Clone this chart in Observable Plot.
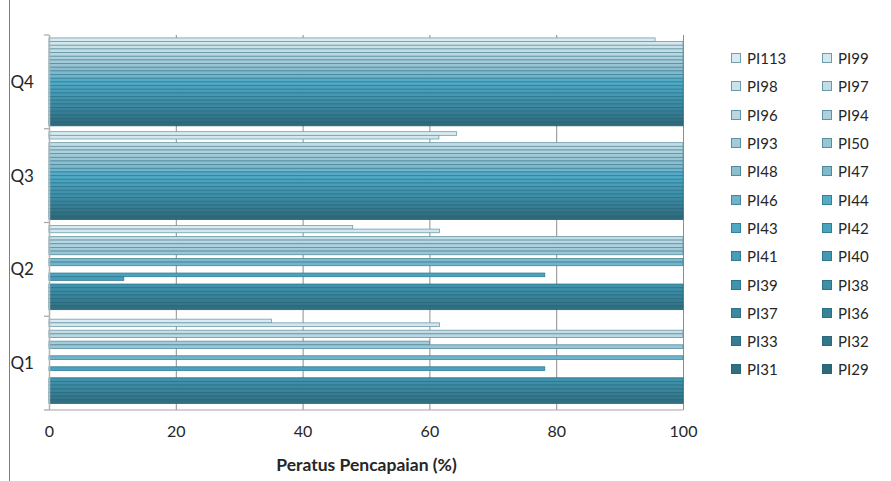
<!DOCTYPE html>
<html>
<head>
<meta charset="utf-8">
<script src="https://cdn.jsdelivr.net/npm/d3@7"></script>
<script src="https://cdn.jsdelivr.net/npm/@observablehq/plot@0.6"></script>
<style>
  body { margin: 0; background: #fff; }
  #wrap { position: relative; width: 891px; height: 481px; overflow: hidden; font-family: Lato, sans-serif; background: #fff; }
  #chart { position: absolute; left: 0; top: 0; }
  #border { position: absolute; left: 9px; top: 0; width: 0; height: 481px; border-left: 1.5px solid #7f7f7f; }
  #legend { position: absolute; left: 731px; top: 44px; display: grid; grid-template-columns: 91px 70px; grid-auto-rows: 28.3px; font-size: 15px; color: #262626; }
  .item { display: flex; align-items: center; white-space: nowrap; }
  .sw { width: 8px; height: 8px; margin-right: 6px; border: 1px solid #4f8fa4; box-sizing: content-box; }
</style>
</head>
<body>
<div id="wrap">
  <div id="chart"></div>
  <div id="border"></div>
  <div id="legend"></div>
</div>
<script>
const quarters = ["Q4", "Q3", "Q2", "Q1"];
const series = ["PI113","PI99","PI98","PI97","PI96","PI94","PI93","PI50","PI48","PI47","PI46","PI44",
                "PI43","PI42","PI41","PI40","PI39","PI38","PI37","PI36","PI33","PI32","PI31","PI29"];
const q1 = [35.1, 61.6, 0, 100, 100, 0, 60.0, 100, 0, 0, 100, 0, 0, 78.2, 0, 0, 100, 100, 100, 100, 100, 100, 100, 0];
const q2 = [47.9, 61.6, 0, 100, 100, 100, 100, 100, 0, 100, 100, 0, 0, 78.2, 11.8, 0, 100, 100, 100, 100, 100, 100, 100, 0];
const q3 = [64.3, 61.5, 0, 100, 100, 100, 100, 100, 100, 100, 100, 100, 100, 100, 100, 100, 100, 100, 100, 100, 100, 100, 100, 100];
const q4 = [95.6, 100, 100, 100, 100, 100, 100, 100, 100, 100, 100, 100, 100, 100, 100, 100, 100, 100, 100, 100, 100, 100, 100, 100];
const colors = ["#d9ebf1","#d3e7ee","#cbe2ea","#c3dde7","#b8d7e2","#aed1de","#a4cbd9","#9ac5d5",
                "#8ebfd1","#80b9cd","#6fb4cb","#55abc6","#4ea8c3","#4aa3be","#469eb9","#4399b3",
                "#4093ad","#3e8ea7","#3b88a0","#38829a","#367c92","#33768a","#307082","#2d6a7b"];
const xTicks = [0, 20, 40, 60, 80, 100];
const xLabel = "Peratus Pencapaian (%)";

const byQ = {Q1: q1, Q2: q2, Q3: q3, Q4: q4};
const data = [];
quarters.forEach(q => series.forEach((s, i) => data.push({quarter: q, series: s, value: byQ[q][i]})));
const fillOf = new Map(series.map((s, i) => [s, colors[i]]));
const strokeOf = new Map(series.map((s, i) => [s, d3.interpolateRgb(colors[i], "#1f5f72")(0.55)]));

const plot = Plot.plot({
  width: 891, height: 481,
  marginTop: 35, marginBottom: 71, marginLeft: 49, marginRight: 208,
  style: {fontFamily: "Lato, sans-serif", fontSize: "16px", color: "#262626", background: "transparent"},
  x: {domain: [0, 100], ticks: xTicks},
  y: {domain: series, axis: null, paddingInner: 0, paddingOuter: 0.8, round: false},
  fy: {domain: quarters, padding: 0, axis: null, label: null, round: false},
  color: {type: "identity"},
  marks: [
    Plot.gridX(xTicks, {stroke: "#8c8c8c", strokeOpacity: 1}),
    Plot.barX(data, {
      filter: d => d.value > 0,
      fy: "quarter", y: "series", x: "value",
      fill: d => fillOf.get(d.series),
      stroke: d => strokeOf.get(d.series),
      strokeWidth: 0.8
    }),
    Plot.ruleX([0], {stroke: "#b3b3b3", strokeWidth: 1.5}),
    Plot.axisX(xTicks, {tickSize: 0, tickPadding: 15, fontSize: 16, label: xLabel, labelAnchor: "center", labelArrow: "none", labelOffset: 60}),
    Plot.axisFy({anchor: "left", tickSize: 0, textAnchor: "start", dx: -30, fontSize: 17, label: null})
  ]
});
document.getElementById("chart").appendChild(plot);

// axis decorations: category boundary ticks and bottom axis line
const svg = d3.select(plot.tagName.toLowerCase() === "svg" ? plot : plot.querySelector("svg"));
const fyS = plot.scale("fy"), xS = plot.scale("x");
const x0 = xS.apply(0), x100 = xS.apply(100);
const bounds = quarters.map(q => fyS.apply(q));
bounds.push(fyS.apply(quarters[quarters.length - 1]) + fyS.bandwidth);
bounds.forEach(b => {
  svg.append("line").attr("x1", x0 - 5).attr("x2", x0).attr("y1", b).attr("y2", b)
    .attr("stroke", "#a6a6a6").attr("stroke-width", 1.2);
});
svg.append("line").attr("x1", x0).attr("x2", x100).attr("y1", bounds[bounds.length - 1]).attr("y2", bounds[bounds.length - 1])
  .attr("stroke", "#a6a6a6").attr("stroke-width", 1.2);
svg.selectAll('g[aria-label="x-axis label"] text').attr("font-weight", "bold").attr("font-size", 17.5);

// legend
const legend = d3.select("#legend");
series.forEach((s, i) => {
  const it = legend.append("div").attr("class", "item");
  it.append("div").attr("class", "sw").style("background", colors[i]).style("border-color", strokeOf.get(s));
  it.append("span").text(s);
});
</script>
</body>
</html>
